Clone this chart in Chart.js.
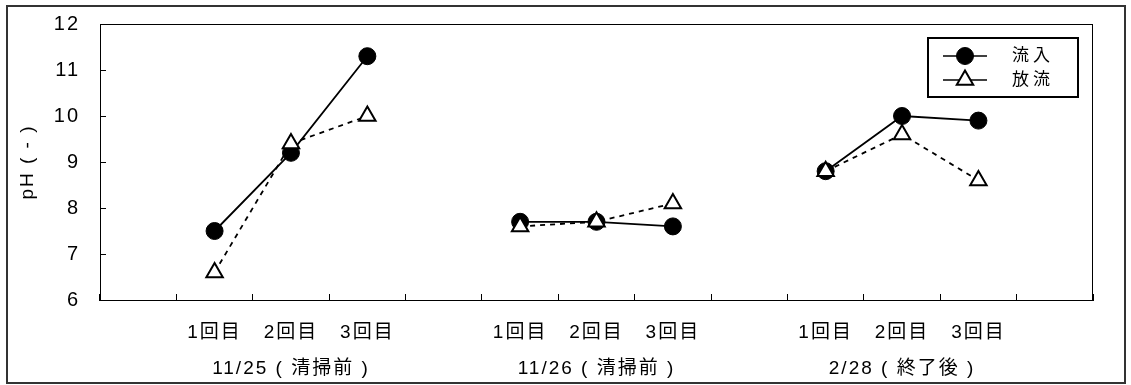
<!DOCTYPE html>
<html>
<head>
<meta charset="utf-8">
<script src="https://cdn.jsdelivr.net/npm/chart.js@4.4.0/dist/chart.umd.min.js"></script>
<style>
  html, body { margin: 0; padding: 0; background: #fff; }
  #wrap { position: relative; width: 1131px; height: 385px; }
  #frame { position: absolute; left: 6px; top: 5px; width: 1120px; height: 379px; border: 2px solid #333; box-sizing: border-box; pointer-events: none; }
</style>
</head>
<body>
<div id="wrap">
  <canvas id="phChart" width="1131" height="385"></canvas>
  <div id="frame"></div>
</div>
<script>
'use strict';

// x slots: one blank slot between (and around) the three sampling days
const runLabels = ['', '1回目', '2回目', '3回目', '', '1回目', '2回目', '3回目', '', '1回目', '2回目', '3回目', ''];
const dayLabels = ['11/25 ( 清掃前 )', '11/26 ( 清掃前 )', '2/28 ( 終了後 )'];
const seriesNames = ['流入', '放流'];
const inflowPH = [null, 7.5, 9.2, 11.3, null, 7.7, 7.7, 7.6, null, 8.8, 10.0, 9.9, null];
const outflowPH = [null, 6.6, 9.4, 10.0, null, 7.6, 7.7, 8.1, null, 8.8, 9.6, 8.6, null];
const yTicks = [6, 7, 8, 9, 10, 11, 12];

// put the day name under the middle run of each group
const labels = runLabels.map((run, i) => {
    const day = (i - 2) % 4 === 0 ? dayLabels[(i - 2) / 4] : '';
    return [run, day];
});

const FONT = "'Liberation Sans', 'Noto Sans CJK JP', sans-serif";
Chart.defaults.font.family = FONT;
Chart.defaults.color = '#000';

// wide letter spacing like the original sheet
const spacing = {
    id: 'spacing',
    beforeInit(chart) { chart.ctx.letterSpacing = '2px'; },
    beforeDraw(chart) { chart.ctx.letterSpacing = '2px'; }
};

// top/right edges of the plot
const plotFrame = {
    id: 'plotFrame',
    beforeDatasetsDraw(chart) {
        const a = chart.chartArea, ctx = chart.ctx;
        ctx.save();
        ctx.strokeStyle = '#000';
        ctx.lineWidth = 1;
        ctx.strokeRect(a.left + 0.5, a.top + 0.5, a.right - a.left - 1, a.bottom - a.top);
        ctx.restore();
    }
};

function marker(ctx, ds, x, y) {
    const r = ds.pointRadius;
    ctx.save();
    ctx.setLineDash([]);
    ctx.lineWidth = ds.pointBorderWidth;
    ctx.strokeStyle = ds.pointBorderColor;
    ctx.fillStyle = ds.pointBackgroundColor;
    ctx.beginPath();
    if (ds.pointStyle === 'triangle') {
        let a = 0;
        ctx.moveTo(x + Math.sin(a) * r, y - Math.cos(a) * r);
        a += 2 * Math.PI / 3;
        ctx.lineTo(x + Math.sin(a) * r, y - Math.cos(a) * r);
        a += 2 * Math.PI / 3;
        ctx.lineTo(x + Math.sin(a) * r, y - Math.cos(a) * r);
        ctx.closePath();
    } else {
        ctx.arc(x, y, r, 0, Math.PI * 2);
    }
    ctx.fill();
    ctx.stroke();
    ctx.restore();
}

// boxed legend inside the plot, top right
const boxLegend = {
    id: 'boxLegend',
    afterDraw(chart) {
        const a = chart.chartArea, ctx = chart.ctx;
        const left = a.right - 165, top = a.top + 14, w = 150, h = 59;
        ctx.save();
        ctx.strokeStyle = '#000';
        ctx.lineWidth = 2;
        ctx.strokeRect(left, top, w, h);
        ctx.font = '17px ' + FONT;
        ctx.letterSpacing = '4px';
        ctx.textBaseline = 'middle';
        ctx.fillStyle = '#000';
        chart.data.datasets.forEach((ds, i) => {
            const y = top + 18 + i * 24;
            ctx.beginPath();
            ctx.lineWidth = 1.5;
            ctx.setLineDash([]);
            ctx.moveTo(left + 15, y);
            ctx.lineTo(left + 59, y);
            ctx.stroke();
            marker(ctx, ds, left + 37, y);
            ctx.fillText(ds.label, left + 84, y);
        });
        ctx.restore();
    }
};

new Chart(document.getElementById('phChart'), {
    type: 'line',
    data: {
        labels: labels,
        datasets: [{
            label: seriesNames[0],
            data: inflowPH,
            borderColor: '#000',
            borderWidth: 1.8,
            pointStyle: 'circle',
            pointRadius: 8.5,
            pointBorderWidth: 1,
            pointBorderColor: '#000',
            pointBackgroundColor: '#000',
            order: 1
        }, {
            label: seriesNames[1],
            data: outflowPH,
            borderColor: '#000',
            borderWidth: 1.8,
            borderDash: [5, 5],
            pointStyle: 'triangle',
            pointRadius: 9.5,
            pointBorderWidth: 2,
            pointBorderColor: '#000',
            pointBackgroundColor: '#fff',
            order: 0
        }]
    },
    options: {
        responsive: false,
        animation: false,
        events: [],
        devicePixelRatio: 1,
        layout: { padding: { left: 0, top: 24, right: 38, bottom: 0 } },
        elements: { line: { tension: 0 } },
        plugins: { legend: { display: false }, tooltip: { enabled: false } },
        scales: {
            x: {
                offset: true,
                grid: { offset: true, drawOnChartArea: false, tickLength: -6, color: '#000' },
                border: { color: '#000', width: 1 },
                ticks: { autoSkip: false, maxRotation: 0, padding: 21, font: { size: 19, lineHeight: 1.9 } },
                afterFit(scale) { scale.height = 85; }
            },
            y: {
                min: 6, max: 12,
                afterBuildTicks(scale) { scale.ticks = yTicks.map(v => ({ value: v })); },
                grid: { drawOnChartArea: false, tickLength: -6, color: '#000' },
                border: { color: '#000', width: 1 },
                ticks: { padding: 26, font: { size: 20 } },
                title: { display: true, text: 'pH ( - )', font: { size: 19 }, padding: { top: 16, bottom: 0 } },
                afterFit(scale) {
                    scale.width = 100;
                    scale.paddingTop = 0;
                    scale.paddingBottom = 0;
                }
            }
        }
    },
    plugins: [spacing, plotFrame, boxLegend]
});
</script>
</body>
</html>
